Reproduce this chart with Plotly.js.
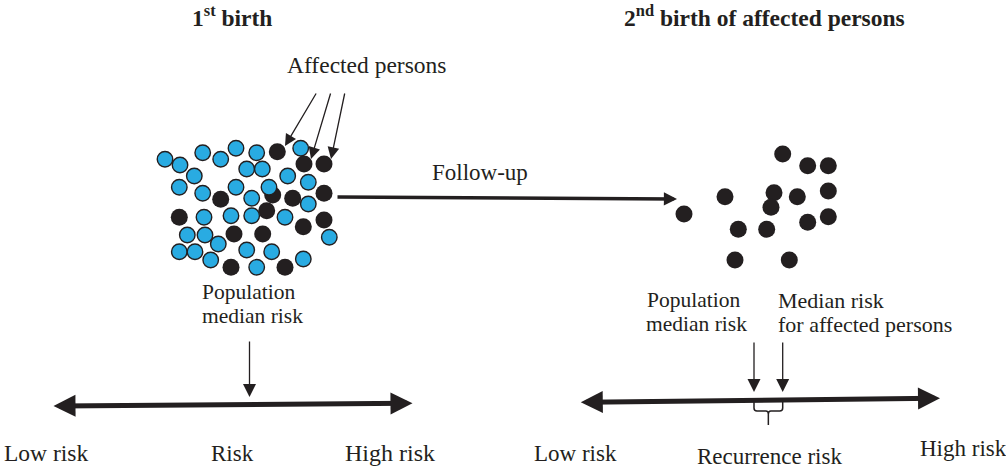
<!DOCTYPE html>
<html>
<head>
<meta charset="utf-8">
<script src="https://cdn.plot.ly/plotly-3.0.1.min.js"></script>
<style>html,body{margin:0;padding:0;background:#fff;}#chart{width:1006px;height:467px;}</style>
</head>
<body>
<div id="chart"></div>
<script>
// ---- Data: first-birth population (blue = unaffected, black = affected)
var blueX = [165,180,202.7,220.7,236,256.7,300.7,194.3,246.7,262.3,287.7,308.3,179.3,202.7,236,269,251.7,308.3,204,231,251.7,285,187.3,205,218.3,329.3,179.3,195,210.7,246.7,271.7,256.7,303.3];
var blueY = [159.3,165,152.7,159.3,148.3,152.7,148.3,176,169,169,176,182.3,187.3,193.3,187.3,187.3,198.3,204,217.3,215.7,215.7,217.3,235,235,244,237.3,251.7,251.7,260,250,251.7,267.3,259];
var blackX = [277.3,304,324,220.7,272.7,292.7,324,266.7,179.3,234,262.7,303.3,324,231,285];
var blackY = [151.7,164,164,199.3,195,198.3,193.3,210.7,217.3,234,234,226.7,220,267.3,267.3];
// ---- Data: second birth of affected persons
var secondX = [782.7,807.7,828.3,725,774,797.3,828.3,771,684,807.7,828.3,738.3,766.7,735,789.3];
var secondY = [154,165.7,165.7,196.7,192.7,196.7,191,207.3,214,222.3,216.7,229.3,229.3,260,260];

// ---- Risk scales
var leftScaleX = [52, 412.5];
var leftScaleY = [406, 403.3];
var rightScaleX = [579.3, 940];
var rightScaleY = [402.3, 398.3];
var popMedianLeftX = 249.5;
var popMedianRightX = 754;
var affMedianRightX = 782.7;

// ---- Pointer arrows (tail -> head)
var affArrowTailX = [317, 331, 345];
var affArrowTailY = [92, 92, 92];
var affArrowHeadX = [285, 311, 331];
var affArrowHeadY = [146, 159, 159];
var followX = [336, 677];
var followY = [197, 199];

var FONT = "Liberation Serif, Times New Roman, serif";
var FS = 23;

var traces = [
  {x: blackX, y: blackY, type: 'scatter', mode: 'markers', hoverinfo: 'skip',
   marker: {size: 17, color: '#231f20', line: {width: 0}}},
  {x: blueX, y: blueY, type: 'scatter', mode: 'markers', hoverinfo: 'skip',
   marker: {size: 15.5, color: '#29abe2', line: {width: 1.4, color: '#231f20'}}},
  {x: secondX, y: secondY, type: 'scatter', mode: 'markers', hoverinfo: 'skip',
   marker: {size: 17, color: '#231f20', line: {width: 0}}}
];

var ann = [];
function label(text, x, cy, opts) {
  opts = opts || {};
  ann.push({
    text: text, x: x, y: cy, xref: 'x', yref: 'y', showarrow: false,
    xanchor: opts.xanchor || 'left', yanchor: 'middle',
    font: {family: FONT, size: opts.size || FS, color: '#231f20'}
  });
}
function arrow(x0, y0, x1, y1, w, size, both) {
  var a = {
    x: x1, y: y1, ax: x0, ay: y0, xref: 'x', yref: 'y', axref: 'x', ayref: 'y',
    text: '', showarrow: true, arrowhead: 2, arrowsize: size, arrowwidth: w,
    arrowcolor: '#231f20', standoff: 0, startstandoff: 0
  };
  if (both) { a.arrowside = 'end+start'; a.startarrowhead = 2; a.startarrowsize = size; }
  ann.push(a);
}

// titles and labels
label('<b>1<sup>st</sup> birth</b>', 232, 16, {xanchor: 'center', size: 23.5});
label('<b>2<sup>nd</sup> birth of affected persons</b>', 764, 16, {xanchor: 'center', size: 23.5});
label('Affected persons', 285, 65, {size: 23.5});
label('Follow-up', 430, 172);
label('Population', 200, 292, {size: 21.5});
label('median risk', 200, 316, {size: 21.5});
label('Low risk', 2, 453, {size: 23.5});
label('Risk', 209, 453);
label('High risk', 343, 453, {size: 24});
label('Population', 645, 300, {size: 21.5});
label('median risk', 644, 324, {size: 21.5});
label('Median risk', 776, 300, {size: 22});
label('for affected persons', 776, 324, {size: 22});
label('Low risk', 532, 453);
label('Recurrence risk', 695, 456);
label('High risk', 918, 448);

// arrows
for (var i = 0; i < affArrowTailX.length; i++) {
  arrow(affArrowTailX[i], affArrowTailY[i], affArrowHeadX[i], affArrowHeadY[i], 1.3, 1.8);
}
arrow(followX[0], followY[0], followX[1], followY[1], 3.5, 0.75);
arrow(popMedianLeftX, 340, popMedianLeftX, 397, 1.3, 2);
arrow(popMedianRightX, 341, popMedianRightX, 392, 1.3, 2);
arrow(affMedianRightX, 341, affMedianRightX, 392, 1.3, 2);
arrow(leftScaleX[0], leftScaleY[0], leftScaleX[1], leftScaleY[1], 5, 0.88, true);
arrow(rightScaleX[0], rightScaleY[0], rightScaleX[1], rightScaleY[1], 5, 0.88, true);

// brace under the recurrence interval
var bL = popMedianRightX, bR = affMedianRightX, bM = (bL + bR) / 2;
var bTop = 400, bBot = 411, stemEnd = 425;
var bracePath = 'M ' + bL + ',' + bTop + ' L ' + bL + ',' + (bBot - 3) +
  ' Q ' + bL + ',' + bBot + ' ' + (bL + 3) + ',' + bBot +
  ' L ' + (bM - 2.5) + ',' + bBot + ' Q ' + bM + ',' + bBot + ' ' + bM + ',' + (bBot + 3) +
  ' L ' + bM + ',' + stemEnd +
  ' M ' + bM + ',' + (bBot + 3) + ' Q ' + bM + ',' + bBot + ' ' + (bM + 2.5) + ',' + bBot +
  ' L ' + (bR - 3) + ',' + bBot + ' Q ' + bR + ',' + bBot + ' ' + bR + ',' + (bBot - 3) +
  ' L ' + bR + ',' + bTop;

var layout = {
  width: 1006, height: 467,
  margin: {l: 0, r: 0, t: 0, b: 0},
  paper_bgcolor: '#ffffff', plot_bgcolor: '#ffffff',
  showlegend: false,
  xaxis: {range: [0, 1006], visible: false, fixedrange: true},
  yaxis: {range: [467, 0], visible: false, fixedrange: true},
  annotations: ann,
  shapes: [{type: 'path', xref: 'x', yref: 'y', path: bracePath,
            line: {color: '#231f20', width: 1.5}}]
};

Plotly.newPlot('chart', traces, layout, {staticPlot: true, displayModeBar: false});
</script>
</body>
</html>
